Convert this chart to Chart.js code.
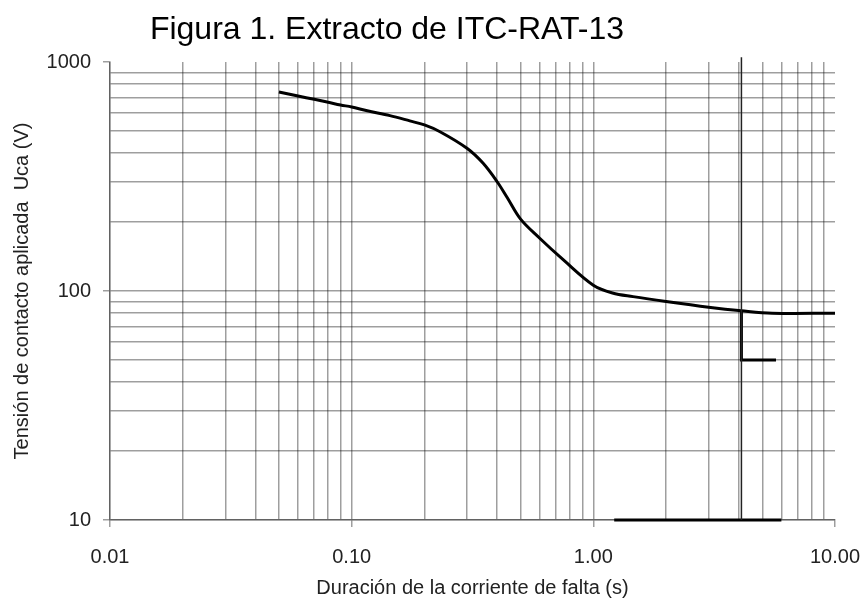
<!DOCTYPE html>
<html>
<head>
<meta charset="utf-8">
<script src="https://cdn.jsdelivr.net/npm/chart.js@4.4.1/dist/chart.umd.min.js"></script>
<style>
  body { margin: 0; background: #fff; }
  #wrap { width: 864px; height: 601px; position: relative; }
</style>
</head>
<body>
<div id="wrap"><canvas id="chart"></canvas></div>
<script>
// Curve (log-log)
const curveX = [0.05, 0.06, 0.07, 0.08, 0.09, 0.10, 0.116, 0.144, 0.174, 0.20, 0.232, 0.30, 0.35, 0.40, 0.44, 0.50, 0.60, 0.75, 1.0, 1.2, 1.46, 2.0, 3.0, 4.1, 5.5, 10];
const curveY = [740, 710, 687, 667, 649, 636, 612, 583, 553, 531, 496, 420, 361, 300, 256, 206, 170, 137, 106, 98, 94.5, 90, 85, 82, 80, 80];

// step at t ~ 4.1 s down to 50 V
const stepX = [4.1, 4.1, 5.7];
const stepY = [82, 50, 50];

// thick segment along the 10 V line
const baseX = [1.22, 6.0];
const baseY = [10, 10];

// thin vertical marker
const markX = [4.1, 4.1];
const markY = [10, 1050];

// gridlines / ticks
const xTicks = [0.01, 0.02, 0.03, 0.04, 0.05, 0.06, 0.07, 0.08, 0.09,
                0.1, 0.2, 0.3, 0.4, 0.5, 0.6, 0.7, 0.8, 0.9,
                1, 2, 3, 4, 5, 6, 7, 8, 9, 10];
const yTicks = [10, 20, 30, 40, 50, 60, 70, 80, 90,
                100, 200, 300, 400, 500, 600, 700, 800, 900, 1000];
const xLabels = { 0.01: '0.01', 0.1: '0.10', 1: '1.00', 10: '10.00' };
const yLabels = { 10: '10', 100: '100', 1000: '1000' };

const pts = (xs, ys) => xs.map((x, i) => ({ x: x, y: ys[i] }));
const FONT = "'Liberation Sans', Arial, sans-serif";
const GRID = 'rgba(0,0,0,0.38)';

const titlePlugin = {
  id: 'figTitle',
  afterDraw(chart) {
    const ctx = chart.ctx;
    ctx.save();
    ctx.fillStyle = '#000';
    ctx.font = '32px ' + FONT;
    ctx.textAlign = 'center';
    ctx.textBaseline = 'middle';
    ctx.fillText('Figura 1. Extracto de ITC-RAT-13', 387, 30);
    ctx.restore();
  }
};

new Chart(document.getElementById('chart'), {
  type: 'scatter',
  data: {
    datasets: [
      { data: pts(markX, markY), showLine: true, borderColor: '#222', borderWidth: 1.5, pointRadius: 0, clip: false },
      { data: pts(curveX, curveY), showLine: true, borderColor: '#000', borderWidth: 3, pointRadius: 0, tension: 0.35 },
      { data: pts(stepX, stepY), showLine: true, borderColor: '#000', borderWidth: 3, pointRadius: 0 },
      { data: pts(baseX, baseY), showLine: true, borderColor: '#000', borderWidth: 3, pointRadius: 0, clip: false }
    ]
  },
  options: {
    responsive: true,
    maintainAspectRatio: false,
    animation: false,
    layout: { padding: { left: 8, right: 29, top: 62, bottom: 0 } },
    plugins: { legend: { display: false }, tooltip: { enabled: false } },
    scales: {
      x: {
        type: 'logarithmic',
        min: 0.01, max: 10,
        afterBuildTicks: s => { s.ticks = xTicks.map(v => ({ value: v })); },
        afterFit: s => { s.height = 81; s.paddingLeft = 0; s.paddingRight = 0; },
        border: { display: true, color: GRID, width: 1.5 },
        grid: {
          lineWidth: 1.5,
          color: c => (c.tick && c.tick.value === 10) ? 'rgba(0,0,0,0)' : GRID,
          tickColor: c => (c.tick && xLabels[c.tick.value]) ? GRID : 'rgba(0,0,0,0)',
          tickLength: 7
        },
        ticks: {
          autoSkip: false, maxRotation: 0, padding: 18, color: '#222',
          font: { family: FONT, size: 20 },
          callback: v => xLabels[v] || ''
        },
        title: {
          display: true, text: 'Duración de la corriente de falta (s)', color: '#222',
          font: { family: FONT, size: 20 }, padding: { top: 0, bottom: 1 }
        }
      },
      y: {
        type: 'logarithmic',
        min: 10, max: 1000,
        afterBuildTicks: s => { s.ticks = yTicks.map(v => ({ value: v })); },
        afterFit: s => { s.width = 102; s.paddingTop = 0; s.paddingBottom = 0; },
        border: { display: true, color: GRID, width: 1.5 },
        grid: {
          lineWidth: 1.5,
          color: c => (c.tick && c.tick.value === 1000) ? 'rgba(0,0,0,0)' : GRID,
          tickColor: c => (c.tick && yLabels[c.tick.value]) ? GRID : 'rgba(0,0,0,0)',
          tickLength: 7
        },
        ticks: {
          autoSkip: false, padding: 12, color: '#222',
          font: { family: FONT, size: 20 },
          callback: v => yLabels[v] || ''
        },
        title: {
          display: true, text: 'Tensión de contacto aplicada  Uca (V)', color: '#222',
          font: { family: FONT, size: 20 }, padding: { top: 2, bottom: 0 }
        }
      }
    }
  },
  plugins: [titlePlugin]
});
</script>
</body>
</html>
